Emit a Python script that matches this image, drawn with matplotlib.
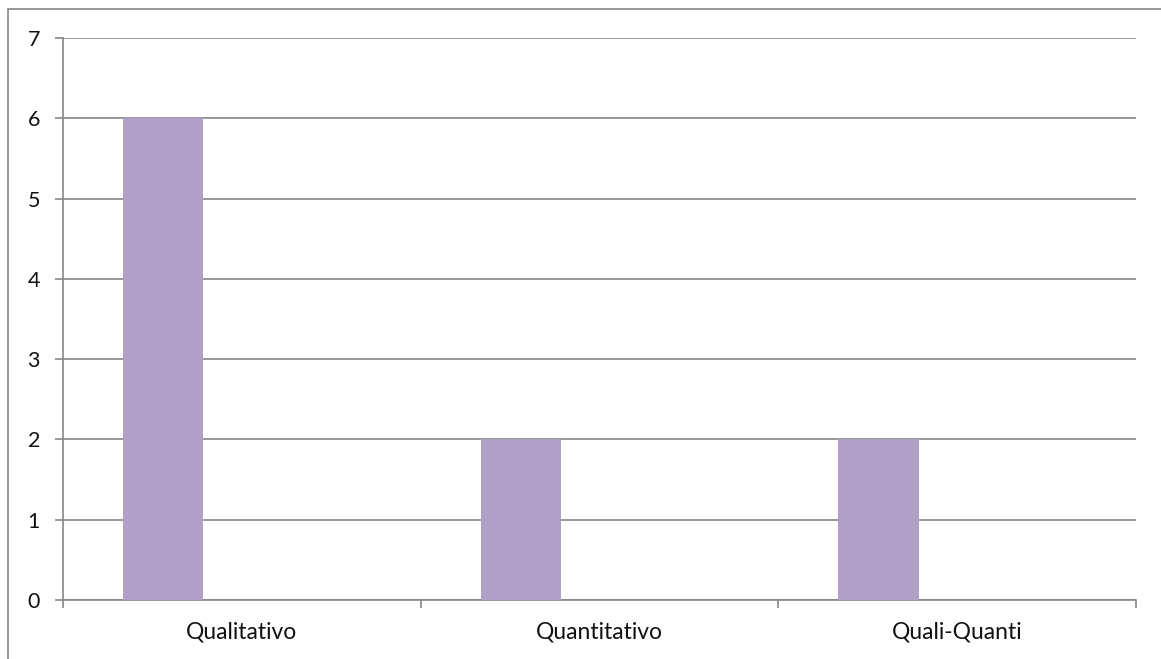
import matplotlib.pyplot as plt
import matplotlib.patches as patches
import numpy as np

# data
categories = ['Qualitativo', 'Quantitativo', 'Quali-Quanti']
values = [6, 2, 2]

plt.rcParams['font.family'] = ['Lato', 'DejaVu Sans']

fig = plt.figure(figsize=(11.61, 6.59), dpi=100)
ax = fig.add_axes([63/1161, 59/659, (1136-63)/1161, (600-38)/659])

x = np.arange(len(categories))
ax.bar(x - 0.22, values, width=0.224, color='#B1A0C7', zorder=3)

ax.set_xlim(-0.5, 2.5)
ax.set_ylim(0, 7)
ax.set_yticks(range(0, 8))
ax.yaxis.grid(True, color='#868686', linewidth=1.2, zorder=0)

ax.set_xticks(x)
ax.set_xticklabels(categories)
ax.set_xticks([-0.5, 0.5, 1.5, 2.5], minor=True)
ax.tick_params(axis='x', which='major', length=0, pad=15.5, labelsize=16.5, labelcolor='#111111')
ax.tick_params(axis='x', which='minor', length=5.5, width=1.2, color='#868686')
ax.tick_params(axis='y', length=5.5, width=1.2, color='#868686', pad=11, labelsize=15.5, labelcolor='#111111')

for s in ['top', 'right']:
    ax.spines[s].set_visible(False)
for s in ['left', 'bottom']:
    ax.spines[s].set_color('#868686')
    ax.spines[s].set_linewidth(1.2)

# outer chart border (cut off at right and bottom)
fig.patches.append(patches.Rectangle((8/1161, -0.1), 1.2, (659-9)/659 + 0.1,
                                     transform=fig.transFigure, fill=False,
                                     edgecolor='#868686', linewidth=1.2))

fig.savefig('out.png', dpi=100)
